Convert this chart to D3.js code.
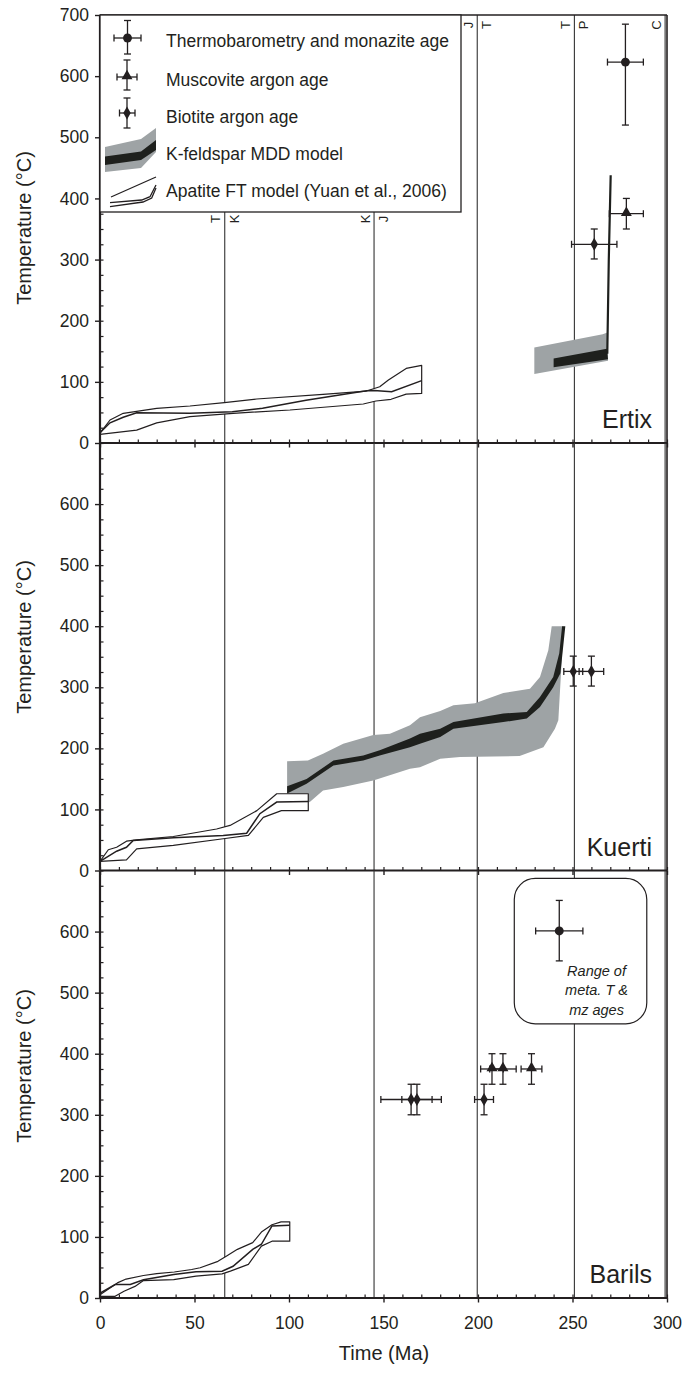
<!DOCTYPE html>
<html>
<head>
<meta charset="utf-8">
<script src="https://cdn.jsdelivr.net/npm/d3@7"></script>
<style>
  body { margin: 0; background: #fff; }
  svg { font-family: "Liberation Sans", Arial, sans-serif; }
</style>
</head>
<body>
<script>
// axis ticks
var xTicks = d3.range(0, 301, 50);
var xMinor = d3.range(0, 301, 10);
var yTicksTop = d3.range(0, 701, 100);
var yTicksLow = d3.range(0, 601, 100);
var yMinor = d3.range(0, 701, 25);

// geological boundaries (Ma) and period letters either side
var boundaries = [66, 145, 199.6, 251, 299];
var boundaryLeft = ["T", "K", "J", "T", "C"];
var boundaryRight = ["K", "J", "T", "P", ""];

// ---- Ertix ----
var ertixApUpper = [[0,16],[5.3,37.6],[12.3,48.6],[30,56.7],[47.6,60.5],[65.8,66],[82.9,72],[118,79.6],[141,85],[148,92],[152.6,103],[162,122],[170.2,127]];
var ertixApMean = [[0,17],[5.3,33],[12.3,42],[19.4,49.6],[47.6,48.5],[70,51],[86,57],[109,70],[141,85.5],[145,86],[154.3,84],[170.2,102]];
var ertixApLower = [[0,14.2],[19.4,21],[30,33],[47.6,43],[70.5,48.6],[100.5,54],[139.3,63.8],[146,68.7],[154,71.5],[162,80],[170.2,81]];
var ertixKfMax = [[229.8,156],[266,178],[268.8,181]];
var ertixKfMin = [[229.8,113],[268.8,134.6]];
var ertixKfMeanHi = [[240,138],[268.2,154]];
var ertixKfMeanLo = [[240,124],[268.8,137]];
var ertixKfRise = [[268.4,146],[269.2,300],[270.2,438]];
var ertixSamples = [
  {mineral: "monazite", age: 278, dAge: 9.5, t: 623, tLo: 520, tHi: 685},
  {mineral: "muscovite", age: 278.5, dAge: 9, t: 375, tLo: 350, tHi: 400},
  {mineral: "biotite", age: 261.5, dAge: 12, t: 325, tLo: 301, tHi: 350}
];

// ---- Kuerti ----
var kuertiApUpper = [[0,14.8],[4.4,34],[8.8,38],[14,48],[19.4,50],[38.8,55.7],[61.7,68],[68.8,73.8],[83,98],[93.5,125.7],[110.2,125.7]];
var kuertiApMean = [[0,14.8],[8.8,31.6],[14,38],[17.6,49],[38.8,53.6],[65.2,57.4],[77.6,61],[84.6,93],[93.5,112],[110.2,113]];
var kuertiApLower = [[0,14.8],[14,17.5],[19.4,35.5],[38.8,41],[65.2,52],[78.5,57.4],[86.4,87],[96,98],[110.2,98]];
var kuertiKfMax = [[99,178.7],[110,180],[118,191],[128.7,207.7],[144.6,222],[153.4,224],[164,237.7],[169.3,251],[180,261],[187,270.5],[198.4,274],[213.4,290.7],[227.5,297.8],[232.8,317],[237.2,360.7],[239,400]];
var kuertiKfMin = [[99,105],[111,112],[118,131],[128.7,136.6],[144.6,147.5],[164,166.7],[169.3,169],[180,183],[190.5,185.8],[222,187.4],[234.6,202],[240.7,232],[242.5,246],[244.3,344],[245.2,400]];
var kuertiKfMeanHi = [[99,138],[109.3,150],[123.5,180],[139.3,188.5],[148,196.7],[164,216],[169.3,224],[180,232],[187,243],[213.4,257],[225.8,259.5],[232.8,284],[239.8,317],[243,355.7],[244.5,400]];
var kuertiKfMeanLo = [[99,126],[109.3,142],[123.5,172],[139.3,180],[148,188.5],[164,202],[169.3,207.6],[180,218.5],[187,232],[213.4,243],[225.8,248.7],[232.8,267.7],[239.8,300],[243.6,323],[246.2,400]];
var kuertiSamples = [
  {mineral: "biotite", age: 250.4, dAge: 5, t: 326, tLo: 302, tHi: 351},
  {mineral: "biotite", age: 260, dAge: 6.5, t: 326, tLo: 302, tHi: 351}
];

// ---- Barils ----
var barilsApUpper = [[0,5.5],[9.2,24.7],[13.8,31],[23,36.8],[30,40],[39.3,42.6],[48.5,46.7],[53,49.5],[62.4,60],[67,68.7],[72.7,79.7],[80.8,90.6],[85.4,108],[91,120],[95.8,124.7],[100.4,124.7]];
var barilsApMean = [[0,8],[8,22],[16,22],[23,30],[39,38.5],[50.8,43],[64.6,44],[70.4,52],[80.8,79.7],[85.4,88],[91,118],[100.4,119]];
var barilsApLower = [[0,2.7],[8,2.7],[12.7,11],[18.5,19],[23,28.6],[39,30],[50.8,35.7],[64.6,39.5],[69,44],[78.5,55],[85.4,85],[91,93],[100.4,93]];
var barilsSamples = [
  {mineral: "biotite", age: 164.6, dAge: 16, t: 325, tLo: 300, tHi: 350},
  {mineral: "biotite", age: 167.7, dAge: 8, t: 325, tLo: 300, tHi: 350},
  {mineral: "biotite", age: 203.2, dAge: 5, t: 325, tLo: 300, tHi: 350},
  {mineral: "muscovite", age: 207.4, dAge: 6, t: 375, tLo: 350, tHi: 400},
  {mineral: "muscovite", age: 213.2, dAge: 7, t: 375, tLo: 350, tHi: 400},
  {mineral: "muscovite", age: 228.3, dAge: 5.5, t: 375, tLo: 350, tHi: 400},
  {mineral: "monazite", age: 243, dAge: 12.5, t: 601, tLo: 552, tHi: 651}
];
var barilsRange = {ageMin: 219.2, ageMax: 289.3, tMin: 449, tMax: 687};
var barilsRangeText = ["Range of", "meta. T &", "mz ages"];

var legendLabels = ["Thermobarometry and monazite age", "Muscovite argon age", "Biotite argon age",
                    "K-feldspar MDD model", "Apatite FT model (Yuan et al., 2006)"];

var ink = "#231f20", grey = "#9ea3a5", band = "#1e201d";

var panels = [
  {name: "Ertix", top: 15, bottom: 443, ticks: yTicksTop, apUp: ertixApUpper, apMean: ertixApMean, apLo: ertixApLower,
   kfMax: ertixKfMax, kfMin: ertixKfMin, kfHi: ertixKfMeanHi, kfLo: ertixKfMeanLo, kfRise: ertixKfRise, samples: ertixSamples, labelY: 228},
  {name: "Kuerti", top: 443, bottom: 870.5, ticks: yTicksLow, apUp: kuertiApUpper, apMean: kuertiApMean, apLo: kuertiApLower,
   kfMax: kuertiKfMax, kfMin: kuertiKfMin, kfHi: kuertiKfMeanHi, kfLo: kuertiKfMeanLo, samples: kuertiSamples, labelY: 637},
  {name: "Barils", top: 870.5, bottom: 1298, ticks: yTicksLow, apUp: barilsApUpper, apMean: barilsApMean, apLo: barilsApLower,
   samples: barilsSamples, labelY: 1066}
];

var svg = d3.select("body").append("svg")
    .attr("width", 684)
    .attr("height", 1375);

var x = d3.scaleLinear().domain([0, 300]).range([100, 667]);

// draws one error bar + marker in pixel space
function errorBar(g, cx, cy, x0, x1, y0, y1, mineral) {
  var s = {stroke: ink, "stroke-width": 1.3};
  function ln(a, b, c, d) {
    g.append("line").attr("x1", a).attr("y1", b).attr("x2", c).attr("y2", d)
      .attr("stroke", ink).attr("stroke-width", 1.3);
  }
  ln(x0, cy, x1, cy);
  ln(x0, cy - 3.5, x0, cy + 3.5);
  ln(x1, cy - 3.5, x1, cy + 3.5);
  ln(cx, y0, cx, y1);
  ln(cx - 3.5, y0, cx + 3.5, y0);
  ln(cx - 3.5, y1, cx + 3.5, y1);
  var sym = mineral == "monazite" ? d3.symbol().type(d3.symbolCircle).size(62)
          : mineral == "muscovite" ? d3.symbol().type(d3.symbolTriangle).size(52)
          : d3.symbol().type(d3.symbolDiamond).size(48);
  g.append("path").attr("d", sym()).attr("fill", ink)
    .attr("transform", "translate(" + cx + "," + (mineral == "muscovite" ? cy - 1 : cy) + ")");
}

panels.forEach(function (p, i) {
  var y = d3.scaleLinear().domain([0, 700]).range([p.bottom, p.top]);
  var line = d3.line().x(function (d) { return x(d[0]); }).y(function (d) { return y(d[1]); });
  var g = svg.append("g");

  // period boundaries
  g.selectAll(".bnd").data(boundaries).enter().append("line")
    .attr("x1", function (d) { return x(d); }).attr("x2", function (d) { return x(d); })
    .attr("y1", p.top).attr("y2", p.bottom)
    .attr("stroke", "#333").attr("stroke-width", 1.1);

  // K-feldspar MDD envelope and mean band
  if (p.kfMax) {
    g.append("path").attr("d", line(p.kfMax.concat(p.kfMin.slice().reverse())) + "Z")
      .attr("fill", grey);
    g.append("path").attr("d", line(p.kfHi.concat(p.kfLo.slice().reverse())) + "Z")
      .attr("fill", band);
    if (p.kfRise) {
      g.append("path").attr("d", line(p.kfRise)).attr("fill", "none")
        .attr("stroke", band).attr("stroke-width", 2.2);
    }
  }

  // apatite FT model
  g.append("path").attr("d", line(p.apUp.concat(p.apLo.slice().reverse())) + "Z")
    .attr("fill", "#fff").attr("stroke", ink).attr("stroke-width", 1.2).attr("stroke-linejoin", "round");
  g.append("path").attr("d", line(p.apMean)).attr("fill", "none")
    .attr("stroke", ink).attr("stroke-width", 1.5);

  // range box (Barils)
  if (p.name == "Barils") {
    g.append("rect")
      .attr("x", x(barilsRange.ageMin)).attr("y", y(barilsRange.tMax))
      .attr("width", x(barilsRange.ageMax) - x(barilsRange.ageMin))
      .attr("height", y(barilsRange.tMin) - y(barilsRange.tMax))
      .attr("rx", 21).attr("fill", "#fff").attr("stroke", ink).attr("stroke-width", 1.2);
    var cx = (x(barilsRange.ageMin) + x(barilsRange.ageMax)) / 2 + 16;
    g.selectAll(".rt").data(barilsRangeText).enter().append("text")
      .attr("x", cx).attr("y", function (d, k) { return y(barilsRange.tMin) - 48 + k * 19.5; })
      .attr("text-anchor", "middle").attr("font-size", 14.5).attr("font-style", "italic")
      .attr("fill", ink).text(function (d) { return d; });
  }

  // samples
  p.samples.forEach(function (s) {
    errorBar(g, x(s.age), y(s.t), x(s.age - s.dAge), x(s.age + s.dAge), y(s.tLo), y(s.tHi), s.mineral);
  });

  // y axis ticks
  g.append("g").attr("transform", "translate(100,0)")
    .call(d3.axisLeft(y).tickValues(yMinor.filter(function (v) { return v < 700 || i == 0; }))
      .tickSize(-3.5).tickFormat(""))
    .call(function (a) { a.select(".domain").remove(); a.selectAll("line").attr("stroke", ink).attr("stroke-width", 1.2); });
  g.append("g").attr("transform", "translate(100,0)")
    .call(d3.axisLeft(y).tickValues(p.ticks).tickSize(5).tickPadding(6))
    .call(function (a) {
      a.select(".domain").remove();
      a.selectAll("line").attr("stroke", ink).attr("stroke-width", 1.4);
      a.selectAll("text").attr("font-size", 17.5).attr("fill", ink)
        .attr("font-family", "'Liberation Sans', Arial, sans-serif");
    });

  // x axis ticks
  g.append("g").attr("transform", "translate(0," + p.bottom + ")")
    .call(d3.axisBottom(x).tickValues(xMinor).tickSize(-3.5).tickFormat(""))
    .call(function (a) { a.select(".domain").remove(); a.selectAll("line").attr("stroke", ink).attr("stroke-width", 1.2); });
  g.append("g").attr("transform", "translate(0," + p.bottom + ")")
    .call(d3.axisBottom(x).tickValues(xTicks).tickSize(4.5).tickPadding(14)
      .tickFormat(i == 2 ? d3.format("d") : ""))
    .call(function (a) {
      a.select(".domain").remove();
      a.selectAll("line").attr("stroke", ink).attr("stroke-width", 1.4);
      a.selectAll("text").attr("font-size", 17.5).attr("fill", ink)
        .attr("font-family", "'Liberation Sans', Arial, sans-serif");
    });

  // frame
  g.append("line").attr("x1", 100).attr("x2", x(300)).attr("y1", p.bottom).attr("y2", p.bottom)
    .attr("stroke", ink).attr("stroke-width", 2.2);
  g.append("line").attr("x1", 100).attr("x2", 100).attr("y1", p.top).attr("y2", p.bottom)
    .attr("stroke", ink).attr("stroke-width", 2.2);
  g.append("line").attr("x1", x(300)).attr("x2", x(300)).attr("y1", p.top).attr("y2", p.bottom)
    .attr("stroke", ink).attr("stroke-width", 1.6);

  // y label
  svg.append("text")
    .attr("transform", "translate(24," + p.labelY + ") rotate(-90)")
    .attr("text-anchor", "middle").attr("dominant-baseline", "central")
    .attr("font-size", 20).attr("fill", ink).text("Temperature (°C)");

  // panel name
  g.append("text").attr("x", 652).attr("y", p.bottom - 15)
    .attr("text-anchor", "end").attr("font-size", 25).attr("fill", ink).text(p.name);
});

// top frame
svg.append("line").attr("x1", 100).attr("x2", x(300)).attr("y1", 15).attr("y2", 15)
  .attr("stroke", ink).attr("stroke-width", 1.6);

// legend
var lg = svg.append("g");
lg.append("rect").attr("x", 100).attr("y", 15).attr("width", 361).attr("height", 197)
  .attr("fill", "#fff").attr("stroke", ink).attr("stroke-width", 1.3);
errorBar(lg, 127.5, 38, 114, 141, 20.5, 54, "monazite");
errorBar(lg, 127, 77, 117, 137, 60, 90, "muscovite");
errorBar(lg, 127, 113, 119.5, 135, 98, 128, "biotite");
lg.append("path").attr("d", "M105,147L141,139L156,128L156,152L141,168L105,172Z").attr("fill", grey);
lg.append("path").attr("d", "M105,156.5L141,151.5L156,140L156,150L141,160L105,165Z").attr("fill", band);
var legLine = d3.line();
[[[111, 197], [156, 177]],
 [[110, 202.7], [141.7, 200], [150, 196.7], [156, 185]],
 [[110, 206.7], [143, 202], [151.7, 198], [156, 188]]].forEach(function (pts) {
  lg.append("path").attr("d", legLine(pts)).attr("fill", "none").attr("stroke", ink).attr("stroke-width", 1.3);
});
lg.selectAll(".lt").data(legendLabels).enter().append("text")
  .attr("x", 166).attr("y", function (d, k) { return [41, 80, 117, 154, 191][k] + 6; })
  .attr("font-size", 17.5).attr("fill", ink).text(function (d) { return d; });

// boundary letters in the top panel (rotated)
var letterY = [219, 219, 25, 25, 25];
boundaries.forEach(function (b, k) {
  [[boundaryLeft[k], -9], [boundaryRight[k], 9.5]].forEach(function (l) {
    if (!l[0]) return;
    svg.append("text")
      .attr("transform", "translate(" + (x(b) + l[1]) + "," + letterY[k] + ") rotate(-90)")
      .attr("text-anchor", "middle").attr("dominant-baseline", "central")
      .attr("font-size", 13).attr("fill", ink).text(l[0]);
  });
});

// x label
svg.append("text").attr("x", 384).attr("y", 1360).attr("text-anchor", "middle")
  .attr("font-size", 20).attr("fill", ink).text("Time (Ma)");
</script>
</body>
</html>
